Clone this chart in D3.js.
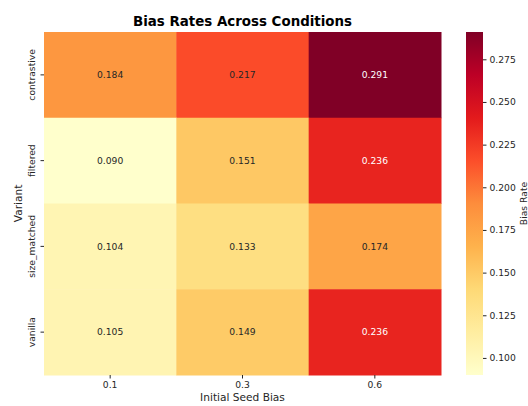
<!DOCTYPE html>
<html>
<head>
<meta charset="utf-8">
<script src="https://cdn.jsdelivr.net/npm/d3@7"></script>
<style>
  body { margin: 0; background: #fff; }
  text { font-family: "DejaVu Sans", sans-serif; }
</style>
</head>
<body>
<div id="chart"></div>
<script>
// data
var variants = ["contrastive", "filtered", "size_matched", "vanilla"];
var seedBias = ["0.1", "0.3", "0.6"];
var contrastive = [0.184, 0.217, 0.291];
var filtered = [0.090, 0.151, 0.236];
var sizeMatched = [0.104, 0.133, 0.174];
var vanilla = [0.105, 0.149, 0.236];
var cbarTicks = [0.100, 0.125, 0.150, 0.175, 0.200, 0.225, 0.250, 0.275];

var rows = [contrastive, filtered, sizeMatched, vanilla];
var cells = [];
rows.forEach(function(r, i) {
  r.forEach(function(v, j) {
    cells.push({variant: variants[i], seed: seedBias[j], value: v});
  });
});

var W = 528, H = 406;
var margin = {top: 32, left: 44},
    width = 397, height = 343;

var svg = d3.select("#chart")
  .append("svg")
    .attr("width", W)
    .attr("height", H);

var g = svg.append("g")
    .attr("transform", "translate(" + margin.left + "," + margin.top + ")");

// matplotlib YlOrRd stops
var ylorrd = ["#ffffcc", "#ffeda0", "#fed976", "#feb24c", "#fd8d3c", "#fc4e2a", "#e31a1c", "#bd0026", "#800026"];
var vmin = d3.min(cells, function(d) { return d.value; }),
    vmax = d3.max(cells, function(d) { return d.value; });
var color = d3.scaleLinear()
  .domain(d3.range(9).map(function(i) { return vmin + (vmax - vmin) * i / 8; }))
  .range(ylorrd)
  .interpolate(d3.interpolateRgb);

var x = d3.scaleBand().domain(seedBias).range([0, width]);
var y = d3.scaleBand().domain(variants).range([0, height]);

g.selectAll("rect.cell")
  .data(cells)
  .enter()
  .append("rect")
    .attr("class", "cell")
    .attr("x", function(d) { return x(d.seed); })
    .attr("y", function(d) { return y(d.variant); })
    .attr("width", x.bandwidth() + 0.5)
    .attr("height", y.bandwidth() + 0.5)
    .attr("fill", function(d) { return color(d.value); });

g.selectAll("text.annot")
  .data(cells)
  .enter()
  .append("text")
    .attr("class", "annot")
    .attr("x", function(d) { return x(d.seed) + x.bandwidth() / 2; })
    .attr("y", function(d) { return y(d.variant) + y.bandwidth() / 2; })
    .attr("dy", "0.35em")
    .attr("text-anchor", "middle")
    .style("font-size", "9.2px")
    .attr("fill", function(d) {
      var c = d3.rgb(color(d.value));
      var lum = 0.2126 * c.r + 0.7152 * c.g + 0.0722 * c.b;
      return lum > 104 ? "#262626" : "#ffffff";
    })
    .text(function(d) { return d.value.toFixed(3); });

// axes
var xAxis = g.append("g")
  .attr("transform", "translate(0," + height + ")")
  .call(d3.axisBottom(x).tickSize(3.5).tickPadding(3));
xAxis.select(".domain").remove();
xAxis.selectAll("text").style("font-size", "9.2px").attr("fill", "#262626");
xAxis.selectAll("line").attr("stroke", "#262626");

var yAxis = g.append("g")
  .call(d3.axisLeft(y).tickSize(3.5).tickPadding(4));
yAxis.select(".domain").remove();
yAxis.selectAll("line").attr("stroke", "#262626");
yAxis.selectAll("text")
  .style("font-size", "9.2px")
  .attr("fill", "#262626")
  .attr("text-anchor", "middle")
  .attr("x", 0)
  .attr("y", 0)
  .attr("dy", "0")
  .attr("transform", "translate(-9,0) rotate(-90)");

// labels
svg.append("text")
  .attr("x", margin.left + width / 2)
  .attr("y", 26)
  .attr("text-anchor", "middle")
  .style("font-size", "13.4px")
  .style("font-weight", "bold")
  .text("Bias Rates Across Conditions");

svg.append("text")
  .attr("x", margin.left + width / 2)
  .attr("y", 401)
  .attr("text-anchor", "middle")
  .style("font-size", "10.6px")
  .attr("fill", "#262626")
  .text("Initial Seed Bias");

svg.append("text")
  .attr("transform", "translate(22," + (margin.top + height / 2) + ") rotate(-90)")
  .attr("text-anchor", "middle")
  .style("font-size", "10.6px")
  .attr("fill", "#262626")
  .text("Variant");

// colorbar
var cbX = 466, cbW = 17;
var defs = svg.append("defs");
var grad = defs.append("linearGradient")
  .attr("id", "cbar")
  .attr("x1", "0").attr("y1", "1").attr("x2", "0").attr("y2", "0");
ylorrd.forEach(function(c, i) {
  grad.append("stop").attr("offset", (i / 8 * 100) + "%").attr("stop-color", c);
});
svg.append("rect")
  .attr("x", cbX).attr("y", margin.top)
  .attr("width", cbW).attr("height", height)
  .attr("fill", "url(#cbar)");

var cy = d3.scaleLinear().domain([vmin, vmax]).range([margin.top + height, margin.top]);
var cAxis = svg.append("g")
  .attr("transform", "translate(" + (cbX + cbW) + ",0)")
  .call(d3.axisRight(cy).tickValues(cbarTicks).tickFormat(d3.format(".3f")).tickSize(3.5).tickPadding(3));
cAxis.select(".domain").remove();
cAxis.selectAll("text").style("font-size", "9.2px").attr("fill", "#262626");
cAxis.selectAll("line").attr("stroke", "#262626");

svg.append("text")
  .attr("transform", "translate(527," + (margin.top + height / 2) + ") rotate(-90)")
  .attr("text-anchor", "middle")
  .style("font-size", "9.2px")
  .attr("fill", "#262626")
  .text("Bias Rate");
</script>
</body>
</html>
